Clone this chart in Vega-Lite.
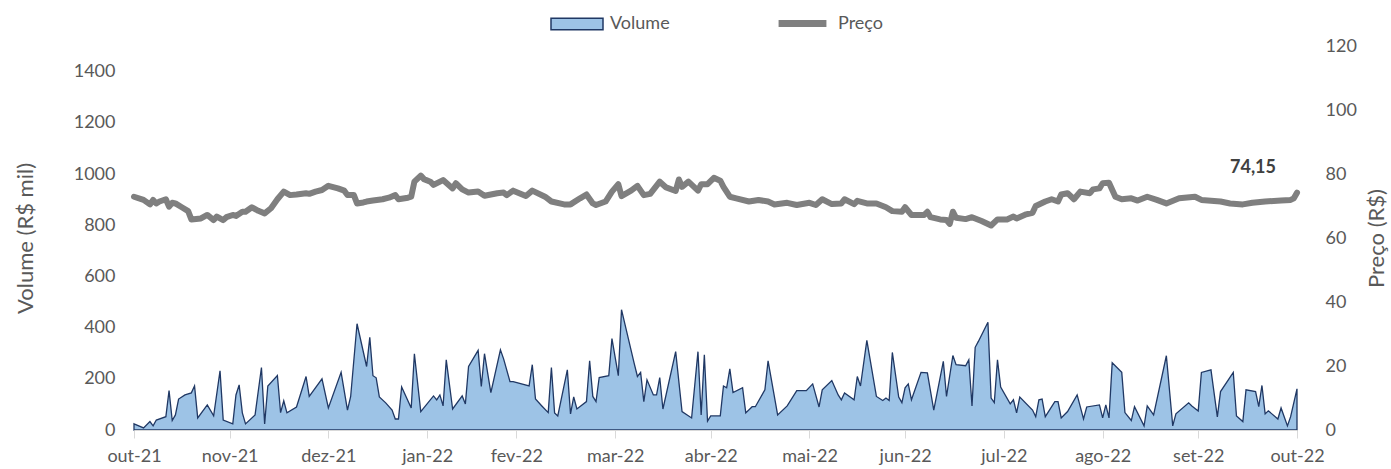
{
  "$schema": "https://vega.github.io/schema/vega-lite/v6.json",
  "autosize": "none",
  "width": 1163,
  "height": 384,
  "padding": {"left": 134, "top": 46, "right": 94, "bottom": 39},
  "background": "white",
  "config": {
    "view": {"stroke": null},
    "font": "Lato",
    "axis": {"labelFont": "Lato", "titleFont": "Lato", "labelColor": "#595959", "titleColor": "#595959", "grid": false, "titleFontWeight": "normal"},
    "legend": {"labelFont": "Lato", "labelFontSize": 18, "labelColor": "#595959", "labelOffset": 6, "title": null}
  },
  "datasets": {
    "volume": [
      {"date": "2021-10-31", "volume": 24}, {"date": "2021-11-03", "volume": 8}, {"date": "2021-11-05", "volume": 33}, {"date": "2021-11-06", "volume": 16},
      {"date": "2021-11-07", "volume": 39}, {"date": "2021-11-10", "volume": 52}, {"date": "2021-11-11", "volume": 154}, {"date": "2021-11-12", "volume": 37},
      {"date": "2021-11-13", "volume": 59}, {"date": "2021-11-14", "volume": 121}, {"date": "2021-11-16", "volume": 137}, {"date": "2021-11-18", "volume": 145},
      {"date": "2021-11-19", "volume": 172}, {"date": "2021-11-20", "volume": 47}, {"date": "2021-11-23", "volume": 98}, {"date": "2021-11-25", "volume": 55},
      {"date": "2021-11-27", "volume": 231}, {"date": "2021-11-28", "volume": 39}, {"date": "2021-12-01", "volume": 24}, {"date": "2021-12-02", "volume": 137},
      {"date": "2021-12-03", "volume": 176}, {"date": "2021-12-04", "volume": 67}, {"date": "2021-12-05", "volume": 24}, {"date": "2021-12-08", "volume": 59},
      {"date": "2021-12-10", "volume": 244}, {"date": "2021-12-11", "volume": 24}, {"date": "2021-12-12", "volume": 172}, {"date": "2021-12-15", "volume": 213},
      {"date": "2021-12-16", "volume": 68}, {"date": "2021-12-17", "volume": 114}, {"date": "2021-12-18", "volume": 67}, {"date": "2021-12-21", "volume": 90},
      {"date": "2021-12-24", "volume": 209}, {"date": "2021-12-25", "volume": 131}, {"date": "2021-12-29", "volume": 200}, {"date": "2021-12-31", "volume": 86},
      {"date": "2022-01-04", "volume": 225}, {"date": "2022-01-06", "volume": 78}, {"date": "2022-01-07", "volume": 131}, {"date": "2022-01-09", "volume": 415},
      {"date": "2022-01-12", "volume": 248}, {"date": "2022-01-13", "volume": 362}, {"date": "2022-01-14", "volume": 212}, {"date": "2022-01-15", "volume": 204},
      {"date": "2022-01-16", "volume": 129}, {"date": "2022-01-18", "volume": 106}, {"date": "2022-01-20", "volume": 78}, {"date": "2022-01-21", "volume": 43},
      {"date": "2022-01-22", "volume": 43}, {"date": "2022-01-23", "volume": 168}, {"date": "2022-01-26", "volume": 86}, {"date": "2022-01-27", "volume": 298},
      {"date": "2022-01-29", "volume": 72}, {"date": "2022-02-02", "volume": 133}, {"date": "2022-02-03", "volume": 118}, {"date": "2022-02-04", "volume": 137},
      {"date": "2022-02-05", "volume": 94}, {"date": "2022-02-06", "volume": 274}, {"date": "2022-02-08", "volume": 82}, {"date": "2022-02-11", "volume": 133},
      {"date": "2022-02-12", "volume": 102}, {"date": "2022-02-13", "volume": 248}, {"date": "2022-02-16", "volume": 311}, {"date": "2022-02-17", "volume": 170},
      {"date": "2022-02-18", "volume": 298}, {"date": "2022-02-20", "volume": 146}, {"date": "2022-02-23", "volume": 313}, {"date": "2022-02-24", "volume": 278},
      {"date": "2022-02-26", "volume": 189}, {"date": "2022-02-27", "volume": 189}, {"date": "2022-03-04", "volume": 172}, {"date": "2022-03-05", "volume": 255},
      {"date": "2022-03-06", "volume": 121}, {"date": "2022-03-08", "volume": 94}, {"date": "2022-03-10", "volume": 68}, {"date": "2022-03-11", "volume": 244},
      {"date": "2022-03-12", "volume": 67}, {"date": "2022-03-13", "volume": 55}, {"date": "2022-03-16", "volume": 235}, {"date": "2022-03-17", "volume": 63},
      {"date": "2022-03-18", "volume": 129}, {"date": "2022-03-19", "volume": 82}, {"date": "2022-03-22", "volume": 111}, {"date": "2022-03-23", "volume": 270},
      {"date": "2022-03-24", "volume": 131}, {"date": "2022-03-25", "volume": 111}, {"date": "2022-03-26", "volume": 205}, {"date": "2022-03-29", "volume": 212},
      {"date": "2022-03-30", "volume": 357}, {"date": "2022-04-01", "volume": 212}, {"date": "2022-04-02", "volume": 470}, {"date": "2022-04-06", "volume": 259},
      {"date": "2022-04-07", "volume": 209}, {"date": "2022-04-08", "volume": 225}, {"date": "2022-04-09", "volume": 111}, {"date": "2022-04-10", "volume": 196},
      {"date": "2022-04-12", "volume": 137}, {"date": "2022-04-13", "volume": 137}, {"date": "2022-04-14", "volume": 205}, {"date": "2022-04-15", "volume": 82},
      {"date": "2022-04-19", "volume": 306}, {"date": "2022-04-21", "volume": 72}, {"date": "2022-04-24", "volume": 47}, {"date": "2022-04-26", "volume": 306},
      {"date": "2022-04-27", "volume": 59}, {"date": "2022-04-28", "volume": 294}, {"date": "2022-04-29", "volume": 35}, {"date": "2022-04-30", "volume": 55},
      {"date": "2022-05-03", "volume": 55}, {"date": "2022-05-04", "volume": 172}, {"date": "2022-05-05", "volume": 165}, {"date": "2022-05-06", "volume": 239},
      {"date": "2022-05-07", "volume": 146}, {"date": "2022-05-10", "volume": 165}, {"date": "2022-05-11", "volume": 67}, {"date": "2022-05-13", "volume": 91},
      {"date": "2022-05-14", "volume": 91}, {"date": "2022-05-17", "volume": 157}, {"date": "2022-05-18", "volume": 270}, {"date": "2022-05-21", "volume": 59},
      {"date": "2022-05-24", "volume": 94}, {"date": "2022-05-27", "volume": 154}, {"date": "2022-05-30", "volume": 154}, {"date": "2022-06-01", "volume": 180},
      {"date": "2022-06-03", "volume": 90}, {"date": "2022-06-04", "volume": 157}, {"date": "2022-06-07", "volume": 193}, {"date": "2022-06-09", "volume": 137},
      {"date": "2022-06-10", "volume": 118}, {"date": "2022-06-11", "volume": 145}, {"date": "2022-06-14", "volume": 118}, {"date": "2022-06-15", "volume": 209},
      {"date": "2022-06-16", "volume": 172}, {"date": "2022-06-18", "volume": 350}, {"date": "2022-06-21", "volume": 131}, {"date": "2022-06-23", "volume": 115},
      {"date": "2022-06-24", "volume": 125}, {"date": "2022-06-25", "volume": 115}, {"date": "2022-06-26", "volume": 303}, {"date": "2022-06-28", "volume": 129},
      {"date": "2022-06-29", "volume": 107}, {"date": "2022-06-30", "volume": 165}, {"date": "2022-07-01", "volume": 180}, {"date": "2022-07-02", "volume": 118},
      {"date": "2022-07-05", "volume": 225}, {"date": "2022-07-07", "volume": 223}, {"date": "2022-07-09", "volume": 78}, {"date": "2022-07-12", "volume": 268},
      {"date": "2022-07-13", "volume": 131}, {"date": "2022-07-15", "volume": 291}, {"date": "2022-07-16", "volume": 255}, {"date": "2022-07-19", "volume": 251},
      {"date": "2022-07-20", "volume": 274}, {"date": "2022-07-21", "volume": 94}, {"date": "2022-07-22", "volume": 323}, {"date": "2022-07-23", "volume": 346},
      {"date": "2022-07-26", "volume": 421}, {"date": "2022-07-27", "volume": 125}, {"date": "2022-07-28", "volume": 107}, {"date": "2022-07-29", "volume": 274},
      {"date": "2022-07-30", "volume": 168}, {"date": "2022-08-02", "volume": 102}, {"date": "2022-08-03", "volume": 118}, {"date": "2022-08-04", "volume": 67},
      {"date": "2022-08-05", "volume": 129}, {"date": "2022-08-09", "volume": 78}, {"date": "2022-08-10", "volume": 52}, {"date": "2022-08-11", "volume": 118},
      {"date": "2022-08-12", "volume": 121}, {"date": "2022-08-13", "volume": 52}, {"date": "2022-08-16", "volume": 111}, {"date": "2022-08-17", "volume": 111},
      {"date": "2022-08-18", "volume": 47}, {"date": "2022-08-20", "volume": 72}, {"date": "2022-08-23", "volume": 137}, {"date": "2022-08-25", "volume": 43},
      {"date": "2022-08-26", "volume": 90}, {"date": "2022-08-30", "volume": 98}, {"date": "2022-08-31", "volume": 47}, {"date": "2022-09-01", "volume": 98},
      {"date": "2022-09-02", "volume": 47}, {"date": "2022-09-03", "volume": 263}, {"date": "2022-09-06", "volume": 225}, {"date": "2022-09-07", "volume": 68},
      {"date": "2022-09-09", "volume": 37}, {"date": "2022-09-10", "volume": 91}, {"date": "2022-09-13", "volume": 16}, {"date": "2022-09-14", "volume": 94},
      {"date": "2022-09-16", "volume": 59}, {"date": "2022-09-20", "volume": 290}, {"date": "2022-09-22", "volume": 16}, {"date": "2022-09-23", "volume": 63},
      {"date": "2022-09-27", "volume": 106}, {"date": "2022-09-28", "volume": 94}, {"date": "2022-09-30", "volume": 74}, {"date": "2022-10-01", "volume": 225},
      {"date": "2022-10-04", "volume": 235}, {"date": "2022-10-06", "volume": 51}, {"date": "2022-10-07", "volume": 150}, {"date": "2022-10-11", "volume": 225},
      {"date": "2022-10-12", "volume": 55}, {"date": "2022-10-14", "volume": 33}, {"date": "2022-10-15", "volume": 157}, {"date": "2022-10-18", "volume": 150},
      {"date": "2022-10-19", "volume": 91}, {"date": "2022-10-20", "volume": 174}, {"date": "2022-10-21", "volume": 63}, {"date": "2022-10-22", "volume": 75},
      {"date": "2022-10-25", "volume": 43}, {"date": "2022-10-26", "volume": 86}, {"date": "2022-10-28", "volume": 16}, {"date": "2022-10-29", "volume": 52},
      {"date": "2022-10-31", "volume": 161}
    ],
    "preco": [
      {"date": "2021-10-31", "preco": 72.9}, {"date": "2021-11-03", "preco": 71.9}, {"date": "2021-11-05", "preco": 70.5}, {"date": "2021-11-06", "preco": 71.9},
      {"date": "2021-11-07", "preco": 70.8}, {"date": "2021-11-08", "preco": 71.4}, {"date": "2021-11-10", "preco": 72.1}, {"date": "2021-11-11", "preco": 69.8},
      {"date": "2021-11-12", "preco": 71.0}, {"date": "2021-11-13", "preco": 70.8}, {"date": "2021-11-15", "preco": 69.6}, {"date": "2021-11-17", "preco": 68.4},
      {"date": "2021-11-18", "preco": 65.8}, {"date": "2021-11-21", "preco": 66.1}, {"date": "2021-11-23", "preco": 67.2}, {"date": "2021-11-25", "preco": 65.6},
      {"date": "2021-11-26", "preco": 66.7}, {"date": "2021-11-28", "preco": 65.6}, {"date": "2021-11-29", "preco": 66.5}, {"date": "2021-12-01", "preco": 67.2},
      {"date": "2021-12-02", "preco": 66.9}, {"date": "2021-12-04", "preco": 68.2}, {"date": "2021-12-05", "preco": 68.2}, {"date": "2021-12-07", "preco": 69.6},
      {"date": "2021-12-09", "preco": 68.5}, {"date": "2021-12-11", "preco": 67.7}, {"date": "2021-12-13", "preco": 69.3}, {"date": "2021-12-15", "preco": 72.1},
      {"date": "2021-12-17", "preco": 74.5}, {"date": "2021-12-19", "preco": 73.4}, {"date": "2021-12-21", "preco": 73.6}, {"date": "2021-12-24", "preco": 74.0},
      {"date": "2021-12-25", "preco": 73.8}, {"date": "2021-12-27", "preco": 74.5}, {"date": "2021-12-29", "preco": 75.0}, {"date": "2021-12-31", "preco": 76.3},
      {"date": "2022-01-03", "preco": 75.5}, {"date": "2022-01-05", "preco": 74.8}, {"date": "2022-01-06", "preco": 73.4}, {"date": "2022-01-08", "preco": 73.4},
      {"date": "2022-01-09", "preco": 70.8}, {"date": "2022-01-11", "preco": 71.1}, {"date": "2022-01-12", "preco": 71.4}, {"date": "2022-01-14", "preco": 71.7},
      {"date": "2022-01-17", "preco": 72.1}, {"date": "2022-01-19", "preco": 72.6}, {"date": "2022-01-21", "preco": 73.4}, {"date": "2022-01-22", "preco": 72.1},
      {"date": "2022-01-25", "preco": 72.6}, {"date": "2022-01-26", "preco": 72.9}, {"date": "2022-01-27", "preco": 77.6}, {"date": "2022-01-29", "preco": 79.5},
      {"date": "2022-01-30", "preco": 78.4}, {"date": "2022-02-01", "preco": 77.6}, {"date": "2022-02-02", "preco": 76.6}, {"date": "2022-02-05", "preco": 78.1},
      {"date": "2022-02-08", "preco": 75.5}, {"date": "2022-02-09", "preco": 77.1}, {"date": "2022-02-11", "preco": 75.2}, {"date": "2022-02-13", "preco": 74.2},
      {"date": "2022-02-16", "preco": 74.5}, {"date": "2022-02-18", "preco": 73.2}, {"date": "2022-02-22", "preco": 74.0}, {"date": "2022-02-24", "preco": 74.2},
      {"date": "2022-02-25", "preco": 73.4}, {"date": "2022-02-27", "preco": 74.8}, {"date": "2022-03-03", "preco": 73.1}, {"date": "2022-03-05", "preco": 74.8},
      {"date": "2022-03-09", "preco": 72.9}, {"date": "2022-03-11", "preco": 71.4}, {"date": "2022-03-15", "preco": 70.5}, {"date": "2022-03-17", "preco": 70.5},
      {"date": "2022-03-20", "preco": 72.4}, {"date": "2022-03-22", "preco": 73.6}, {"date": "2022-03-24", "preco": 70.8}, {"date": "2022-03-25", "preco": 70.3},
      {"date": "2022-03-28", "preco": 71.4}, {"date": "2022-03-30", "preco": 74.5}, {"date": "2022-04-01", "preco": 76.8}, {"date": "2022-04-02", "preco": 73.1},
      {"date": "2022-04-05", "preco": 74.8}, {"date": "2022-04-07", "preco": 76.3}, {"date": "2022-04-09", "preco": 73.4}, {"date": "2022-04-11", "preco": 73.8},
      {"date": "2022-04-14", "preco": 77.6}, {"date": "2022-04-16", "preco": 75.8}, {"date": "2022-04-19", "preco": 74.7}, {"date": "2022-04-20", "preco": 78.3},
      {"date": "2022-04-21", "preco": 76.0}, {"date": "2022-04-23", "preco": 77.6}, {"date": "2022-04-26", "preco": 74.8}, {"date": "2022-04-27", "preco": 76.8},
      {"date": "2022-04-29", "preco": 76.8}, {"date": "2022-05-01", "preco": 78.8}, {"date": "2022-05-03", "preco": 77.9}, {"date": "2022-05-04", "preco": 76.0},
      {"date": "2022-05-06", "preco": 72.9}, {"date": "2022-05-08", "preco": 72.4}, {"date": "2022-05-12", "preco": 71.4}, {"date": "2022-05-15", "preco": 71.9},
      {"date": "2022-05-18", "preco": 71.4}, {"date": "2022-05-20", "preco": 70.5}, {"date": "2022-05-24", "preco": 71.0}, {"date": "2022-05-27", "preco": 70.3},
      {"date": "2022-05-31", "preco": 71.0}, {"date": "2022-06-02", "preco": 70.3}, {"date": "2022-06-04", "preco": 72.1}, {"date": "2022-06-07", "preco": 70.6},
      {"date": "2022-06-10", "preco": 70.8}, {"date": "2022-06-11", "preco": 72.1}, {"date": "2022-06-14", "preco": 70.6}, {"date": "2022-06-15", "preco": 71.6},
      {"date": "2022-06-18", "preco": 70.8}, {"date": "2022-06-21", "preco": 70.8}, {"date": "2022-06-24", "preco": 69.6}, {"date": "2022-06-26", "preco": 68.4},
      {"date": "2022-06-29", "preco": 68.2}, {"date": "2022-06-30", "preco": 69.6}, {"date": "2022-07-02", "preco": 67.2}, {"date": "2022-07-06", "preco": 67.2},
      {"date": "2022-07-07", "preco": 68.2}, {"date": "2022-07-08", "preco": 66.5}, {"date": "2022-07-11", "preco": 65.8}, {"date": "2022-07-13", "preco": 65.6},
      {"date": "2022-07-14", "preco": 64.4}, {"date": "2022-07-15", "preco": 68.2}, {"date": "2022-07-16", "preco": 66.3}, {"date": "2022-07-19", "preco": 65.9},
      {"date": "2022-07-21", "preco": 66.5}, {"date": "2022-07-24", "preco": 65.3}, {"date": "2022-07-27", "preco": 63.9}, {"date": "2022-07-29", "preco": 65.8},
      {"date": "2022-08-01", "preco": 65.8}, {"date": "2022-08-03", "preco": 66.7}, {"date": "2022-08-04", "preco": 66.1}, {"date": "2022-08-07", "preco": 67.4},
      {"date": "2022-08-09", "preco": 67.9}, {"date": "2022-08-10", "preco": 70.0}, {"date": "2022-08-13", "preco": 71.4}, {"date": "2022-08-15", "preco": 72.1},
      {"date": "2022-08-17", "preco": 71.4}, {"date": "2022-08-18", "preco": 73.6}, {"date": "2022-08-20", "preco": 74.0}, {"date": "2022-08-22", "preco": 72.1},
      {"date": "2022-08-24", "preco": 74.5}, {"date": "2022-08-27", "preco": 74.0}, {"date": "2022-08-28", "preco": 75.2}, {"date": "2022-08-30", "preco": 75.5},
      {"date": "2022-08-31", "preco": 77.1}, {"date": "2022-09-02", "preco": 77.3}, {"date": "2022-09-04", "preco": 72.9}, {"date": "2022-09-06", "preco": 72.1},
      {"date": "2022-09-09", "preco": 72.4}, {"date": "2022-09-11", "preco": 71.7}, {"date": "2022-09-14", "preco": 72.9}, {"date": "2022-09-17", "preco": 71.9},
      {"date": "2022-09-20", "preco": 70.8}, {"date": "2022-09-24", "preco": 72.4}, {"date": "2022-09-29", "preco": 72.9}, {"date": "2022-10-01", "preco": 71.9},
      {"date": "2022-10-07", "preco": 71.4}, {"date": "2022-10-10", "preco": 70.8}, {"date": "2022-10-14", "preco": 70.5}, {"date": "2022-10-17", "preco": 71.0},
      {"date": "2022-10-21", "preco": 71.4}, {"date": "2022-10-26", "preco": 71.7}, {"date": "2022-10-29", "preco": 71.9}, {"date": "2022-10-30", "preco": 72.4},
      {"date": "2022-10-31", "preco": 74.15}
    ],
    "ultimo": [
      {"date": "2022-10-31", "preco": 74.15, "rotulo": "74,15"}
    ]
  },
  "encoding": {
    "x": {
      "field": "date",
      "type": "temporal",
      "scale": {"type": "utc", "domain": [{"year": 2021, "month": 10, "date": 31, "utc": true}, {"year": 2022, "month": 10, "date": 31, "utc": true}]},
      "axis": {
        "title": null,
        "values": [
          {"year": 2021, "month": 10, "date": 31, "utc": true},
          {"year": 2021, "month": 11, "date": 30, "utc": true},
          {"year": 2021, "month": 12, "date": 31, "utc": true},
          {"year": 2022, "month": 1, "date": 31, "utc": true},
          {"year": 2022, "month": 2, "date": 28, "utc": true},
          {"year": 2022, "month": 3, "date": 31, "utc": true},
          {"year": 2022, "month": 4, "date": 30, "utc": true},
          {"year": 2022, "month": 5, "date": 31, "utc": true},
          {"year": 2022, "month": 6, "date": 30, "utc": true},
          {"year": 2022, "month": 7, "date": 31, "utc": true},
          {"year": 2022, "month": 8, "date": 31, "utc": true},
          {"year": 2022, "month": 9, "date": 30, "utc": true},
          {"year": 2022, "month": 10, "date": 31, "utc": true}
        ],
        "labelExpr": "['jan','fev','mar','abr','mai','jun','jul','ago','set','out','nov','dez'][utcmonth(datum.value)] + '-' + utcFormat(datum.value, '%y')",
        "labelFontSize": 18,
        "labelPadding": 9,
        "labelFlush": false,
        "labelOverlap": false,
        "domainColor": "#d9d9d9",
        "domainWidth": 1,
        "tickColor": "#d9d9d9",
        "tickSize": 8,
        "tickWidth": 1,
        "zindex": 1
      }
    }
  },
  "layer": [
    {
      "data": {"name": "volume"},
      "mark": {"type": "area", "interpolate": "linear", "stroke": "#203864", "strokeWidth": 1.3, "strokeJoin": "miter"},
      "encoding": {
        "y": {
          "field": "volume",
          "type": "quantitative",
          "scale": {"domain": [0, 1500], "nice": false},
          "axis": {
            "orient": "left",
            "values": [0, 200, 400, 600, 800, 1000, 1200, 1400],
            "format": "d",
            "domain": false,
            "ticks": false,
            "labelFontSize": 18,
            "labelPadding": 19,
            "title": "Volume (R$ mil)",
            "titleFontSize": 22,
            "titlePadding": 36
          }
        },
        "fill": {
          "datum": "Volume",
          "scale": {"domain": ["Volume"], "range": ["#9dc3e6"]},
          "legend": {
            "orient": "none",
            "legendX": 416,
            "legendY": -49,
            "symbolType": "M-1,-0.22H1V0.22H-1Z",
            "symbolSize": 2704,
            "symbolStrokeColor": "#203864",
            "symbolStrokeWidth": 1.5,
            "symbolOpacity": 1
          }
        }
      }
    },
    {
      "data": {"name": "preco"},
      "mark": {"type": "line", "strokeWidth": 6, "strokeCap": "round", "strokeJoin": "round"},
      "encoding": {
        "y": {
          "field": "preco",
          "type": "quantitative",
          "scale": {"domain": [0, 120], "nice": false},
          "axis": {
            "orient": "right",
            "values": [0, 20, 40, 60, 80, 100, 120],
            "domain": false,
            "ticks": false,
            "labelFontSize": 18,
            "labelPadding": 28,
            "title": "Preço (R$)",
            "titleFontSize": 22,
            "titleAngle": 270,
            "titlePadding": 32
          }
        },
        "stroke": {
          "datum": "Preço",
          "scale": {"domain": ["Preço"], "range": ["#7f7f7f"]},
          "legend": {
            "orient": "none",
            "legendX": 639,
            "legendY": -52,
            "symbolType": "M-0.92,0H0.92",
            "symbolSize": 2704,
            "symbolStrokeWidth": 7,
            "symbolOpacity": 1
          }
        }
      }
    },
    {
      "data": {"name": "ultimo"},
      "mark": {"type": "text", "fontWeight": "bold", "fontSize": 18, "font": "Lato", "color": "#404040", "dx": -44, "dy": -25, "align": "center", "baseline": "middle"},
      "encoding": {
        "y": {"field": "preco", "type": "quantitative", "scale": {"domain": [0, 120], "nice": false}, "axis": null},
        "text": {"field": "rotulo"}
      }
    }
  ],
  "resolve": {"scale": {"y": "independent"}}
}
